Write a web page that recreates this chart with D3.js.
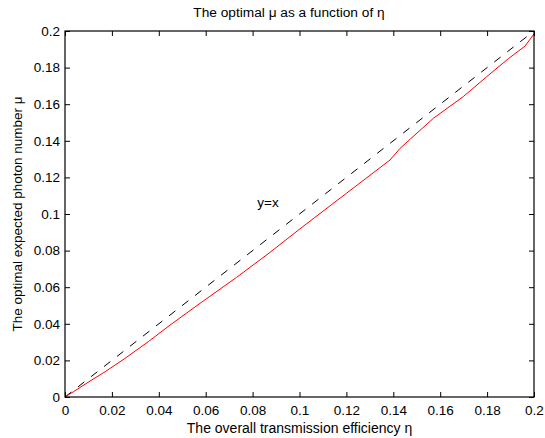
<!DOCTYPE html>
<html><head><meta charset="utf-8">
<script src="https://cdn.jsdelivr.net/npm/d3@7"></script>
<style>
html,body{margin:0;padding:0;background:#fff;}
text{font-family:"Liberation Sans",Arial,sans-serif;fill:#000;}
</style></head>
<body>
<svg id="chart" width="545" height="438"></svg>
<script>
const eta = [0, 0.001, 0.0036, 0.0114, 0.0171, 0.0256, 0.0355, 0.0448, 0.0576, 0.0732, 0.0874, 0.1, 0.12, 0.1386, 0.1429, 0.1571, 0.1699, 0.1798, 0.189, 0.1962, 0.2];
const muOpt = [0, 0.0008, 0.0029, 0.0093, 0.0138, 0.0211, 0.0302, 0.0393, 0.0512, 0.0654, 0.0790, 0.0917, 0.1113, 0.1295, 0.1359, 0.1523, 0.1642, 0.1750, 0.1848, 0.1918, 0.1984];
const diagX = [0, 0.2];
const diagY = [0, 0.2];
const xTicks = [0, 0.02, 0.04, 0.06, 0.08, 0.1, 0.12, 0.14, 0.16, 0.18, 0.2];
const yTicks = [0, 0.02, 0.04, 0.06, 0.08, 0.1, 0.12, 0.14, 0.16, 0.18, 0.2];
const xTickLabels = ["0","0.02","0.04","0.06","0.08","0.1","0.12","0.14","0.16","0.18","0.2"];
const yTickLabels = ["0","0.02","0.04","0.06","0.08","0.1","0.12","0.14","0.16","0.18","0.2"];
const titleText = "The optimal \u03bc as a function of \u03b7";
const xLabel = "The overall transmission efficiency \u03b7";
const yLabel = "The optimal expected photon number \u03bc";
const annot = {text: "y=x", x: 0.082, y: 0.104};

const L = 65, R = 534, T = 31, B = 397;
const fs = 13.5;
const svg = d3.select("#chart");
const x = d3.scaleLinear().domain([0, 0.2]).range([L, R]);
const y = d3.scaleLinear().domain([0, 0.2]).range([B, T]);

const line = d3.line().x(d => x(d[0])).y(d => y(d[1]));

svg.append("path").datum(diagX.map((v,i)=>[v, diagY[i]]))
  .attr("d", line).attr("fill","none").attr("stroke","#000")
  .attr("stroke-width",1).attr("stroke-dasharray","8,8.5");
svg.append("path").datum(eta.map((v,i)=>[v, muOpt[i]]))
  .attr("d", line).attr("fill","none").attr("stroke","#ff0000")
  .attr("stroke-width",1);

function styleAxis(g, hideText){
  g.select(".domain").remove();
  g.selectAll(".tick line").attr("stroke","#000").attr("stroke-width",1);
  g.selectAll(".tick text").attr("font-size", fs).attr("font-family","Liberation Sans, Arial, sans-serif").attr("fill","#000");
  if (hideText) g.selectAll(".tick text").remove();
}
const fmtX = (d,i) => xTickLabels[i];
const fmtY = (d,i) => yTickLabels[i];
svg.append("g").attr("transform",`translate(0,${B})`)
  .call(d3.axisBottom(x).tickValues(xTicks).tickFormat(fmtX).tickSize(-5).tickPadding(8))
  .call(g=>styleAxis(g,false));
svg.append("g").attr("transform",`translate(0,${T})`)
  .call(d3.axisTop(x).tickValues(xTicks).tickFormat(fmtX).tickSize(-5))
  .call(g=>styleAxis(g,true));
svg.append("g").attr("transform",`translate(${L},0)`)
  .call(d3.axisLeft(y).tickValues(yTicks).tickFormat(fmtY).tickSize(-5).tickPadding(5))
  .call(g=>styleAxis(g,false));
svg.append("g").attr("transform",`translate(${R},0)`)
  .call(d3.axisRight(y).tickValues(yTicks).tickFormat(fmtY).tickSize(-5))
  .call(g=>styleAxis(g,true));

svg.append("rect").attr("x",L).attr("y",T).attr("width",R-L).attr("height",B-T)
  .attr("fill","none").attr("stroke","#000").attr("stroke-width",1.2);

svg.append("text").attr("x",289).attr("y",17).attr("text-anchor","middle")
  .attr("font-size",13.7).text(titleText);
svg.append("text").attr("x",(L+R)/2).attr("y",433).attr("text-anchor","middle")
  .attr("font-size",14).text(xLabel);
svg.append("text").attr("transform",`translate(22,${(T+B)/2}) rotate(-90)`).attr("text-anchor","middle")
  .attr("font-size",13.5).text(yLabel);
svg.append("text").attr("x",x(annot.x)).attr("y",y(annot.y)).attr("font-size",fs).text(annot.text);
</script>
</body></html>
